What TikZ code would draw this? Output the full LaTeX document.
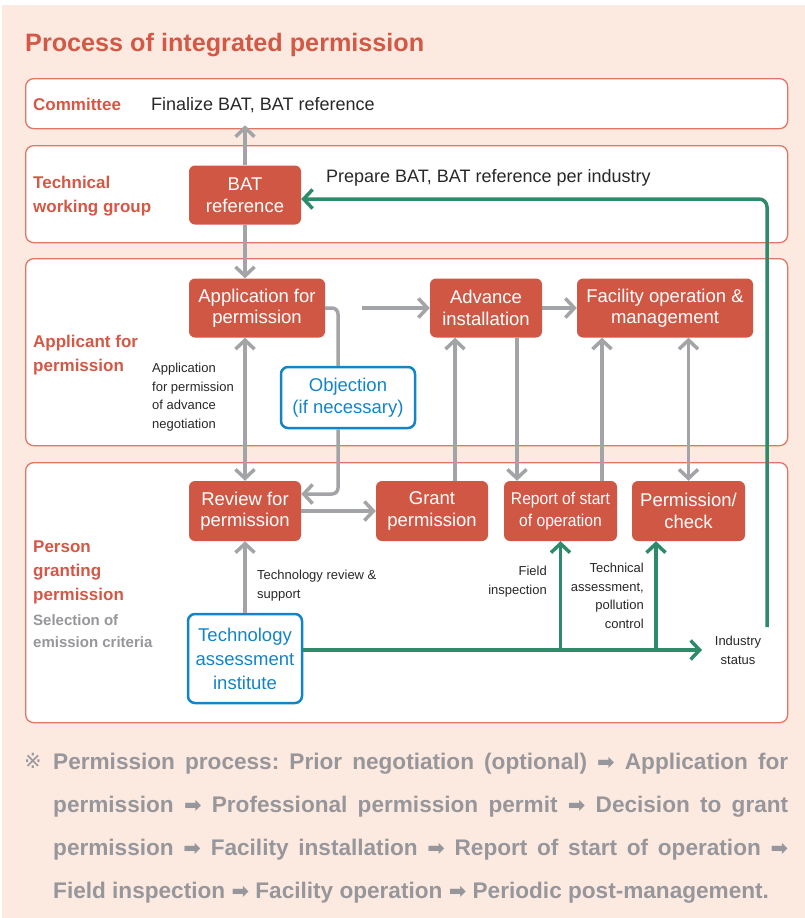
\documentclass[tikz,border=0pt]{standalone}
\usepackage{fontspec}
\setmainfont{Liberation Sans}
\newfontfamily\condfont[FakeStretch=0.92]{Liberation Sans}
\newfontfamily\symfont{DejaVu Sans}
\usetikzlibrary{arrows.meta}
\usetikzlibrary{calc}
\usetikzlibrary{positioning}
\definecolor{bgpink}{RGB}{252,234,225}
\definecolor{laneborder}{RGB}{226,118,100}
\definecolor{boxred}{RGB}{209,87,69}
\definecolor{titlered}{RGB}{212,88,70}
\definecolor{arrowgray}{RGB}{163,164,168}
\definecolor{flowgreen}{RGB}{46,139,106}
\definecolor{instblue}{RGB}{20,132,200}
\definecolor{notegray}{RGB}{150,150,155}
\definecolor{darktext}{RGB}{40,40,40}
\tikzstyle{lane}=[draw=laneborder, line width=1.3pt, fill=white, rounded corners=8pt, anchor=north west, minimum width=762pt]
\tikzstyle{lanelabel}=[anchor=base west, inner sep=0pt, align=left, text=titlered, font=\bfseries\fontsize{17}{24}\selectfont]
\tikzstyle{stepred}=[fill=boxred, rounded corners=6pt, text=white, align=center, inner sep=0pt, font=\fontsize{18.5}{21.5}\selectfont]
\tikzstyle{instbox}=[draw=instblue, line width=2.5pt, fill=white, rounded corners=7pt, text=instblue, align=center, inner sep=0pt, font=\fontsize{18.5}{24}\selectfont]
\tikzstyle{smalltext}=[inner sep=0pt, text=darktext, font=\fontsize{13}{18.5}\selectfont]
\tikzstyle{grayarr}=[draw=arrowgray, line width=3.5pt]
\tikzstyle{greenarr}=[draw=flowgreen, line width=3.5pt]
\tikzstyle{noteline}=[anchor=base west, inner sep=0pt, text=notegray, font=\frenchspacing\bfseries\fontsize{22.6}{43}\selectfont]
\newcommand{\nextstep}{{\symfont\fontsize{21}{43}\selectfont ➡}}

\begin{document}
\begin{tikzpicture}[x=1pt,y=-1pt,>={Straight Barb[length=9pt,width=19pt]}]
  \fill[white] (0,0) rectangle (805,918);
  \fill[bgpink] (2,5) rectangle (805,918);
  \useasboundingbox (0,0) rectangle (805,918);
  \node[anchor=base west, inner sep=0pt, text=titlered, font=\bfseries\fontsize{25.2}{28}\selectfont] (title) at (25,51) {Process of integrated permission};

  % lanes
  \node[lane, minimum height=50pt] (committee) at (25,78) {};
  \node[lane, minimum height=97pt] (twg) at (25,145) {};
  \node[lane, minimum height=187pt] (applicant) at (25,258) {};
  \node[lane, minimum height=260pt] (granting) at (25,462) {};
  \node[lanelabel] (comlabel) at (33,110) {Committee};
  \node[lanelabel] (twglabel) at (33,212) {Technical\\working group};
  \node[lanelabel] (applabel) at (33,371) {Applicant for\\permission};
  \node[lanelabel] (grantlabel) at (33,600) {Person\\granting\\permission};
  \node[lanelabel, text=notegray, font=\bfseries\fontsize{15}{22}\selectfont] (critlabel) at (33,647) {Selection of\\emission criteria};
  \node[anchor=base west, inner sep=0pt, text=darktext, font=\fontsize{18}{22}\selectfont] (finalize) at (151,110) {Finalize BAT, BAT reference};
  \node[anchor=base west, inner sep=0pt, text=darktext, font=\fontsize{18}{22}\selectfont] (prepare) at (326,182) {Prepare BAT, BAT reference per industry};

  % steps
  \node[stepred, minimum width=112pt, minimum height=59pt] (bat) at (245,195) {BAT\\reference};
  \node[stepred, minimum width=136pt, minimum height=59pt] (app) at (257,308) {Application for\\permission};
  \node[stepred, minimum width=112pt, minimum height=59pt] (adv) at (486,308) {Advance\\installation};
  \node[stepred, minimum width=176pt, minimum height=59pt] (fac) at (665,308) {Facility operation \&\\management};
  \node[stepred, minimum width=112pt, minimum height=60pt] (rev) at (245,511) {Review for\\permission};
  \node[stepred, minimum width=112pt, minimum height=60pt] (grant) at (432,511) {Grant\\permission};
  \node[stepred, minimum width=113pt, minimum height=60pt, font=\condfont\fontsize{17}{22}\selectfont] (report) at (560.5,511) {Report of start\\of operation};
  \node[stepred, minimum width=113pt, minimum height=60pt] (perm) at (688.5,511) {Permission/\\check};
  \node[instbox, minimum width=134pt, minimum height=61pt, font=\fontsize{18.5}{22}\selectfont] (obj) at (348,397.5) {Objection\\(if necessary)};
  \node[instbox, minimum width=114pt, minimum height=89pt] (tech) at (245,658.5) {Technology\\assessment\\institute};

  % side notes
  \node[smalltext, anchor=base west, align=left] (advnote) at (152,428) {Application\\for permission\\of advance\\negotiation};
  \node[smalltext, anchor=base west, align=left] (technote) at (257,598) {Technology review \&\\support};
  \node[smalltext, anchor=base east, align=right] (fieldnote) at (547,594) {Field\\inspection};
  \node[smalltext, anchor=base east, align=right] (assessnote) at (644,628) {Technical\\assessment,\\pollution\\control};
  \node[smalltext, anchor=base, align=center] (industry) at (738,664) {Industry\\status};

  % gray flow
  \draw[grayarr,->] (bat.north) -- ([yshift=4pt]bat.north |- committee.south);
  \draw[grayarr,->] (bat.south) -- (bat.south |- app.north);
  \draw[grayarr,<->] (rev.north |- app.south) -- (rev.north);
  \draw[grayarr, rounded corners=6pt] (app.east) -| ([xshift=-10pt]obj.north);
  \draw[grayarr,->, rounded corners=6pt] ([xshift=-10pt]obj.south) |- ([yshift=17pt]rev.east);
  \coordinate (gap) at (362,308);
  \draw[grayarr,->] (gap) -- (adv.west);
  \draw[grayarr,->] (adv.east) -- (fac.west);
  \draw[grayarr,->] (rev.east) -- (grant.west);
  \draw[grayarr,->] ([xshift=-31pt]adv.south |- grant.north) -- ([xshift=-31pt]adv.south);
  \draw[grayarr,->] ([xshift=31pt]adv.south) -- ([xshift=31pt]adv.south |- report.north);
  \draw[grayarr,->] ([xshift=41.5pt]report.north) -- ([xshift=41.5pt]report.north |- fac.south);
  \draw[grayarr,<->] (perm.north |- fac.south) -- (perm.north);
  \draw[grayarr,->] (tech.north) -- (rev.south);

  % green flow
  \coordinate (indtip) at (702,650);
  \coordinate (status) at (767,627);
  \draw[greenarr,->] ([yshift=8.5pt]tech.east) -- (indtip);
  \draw[greenarr,->] (report.south |- indtip) -- (report.south);
  \draw[greenarr,->] ([xshift=-32.5pt]perm.south |- indtip) -- ([xshift=-32.5pt]perm.south);
  \draw[greenarr,->, rounded corners=8pt] (status) |- ([yshift=-4pt]bat.east);

  % note
  \node[noteline, font=\fontsize{21}{43}\selectfont] (mark) at (24,768) {{\symfont ※}};
  \node[noteline] (note1) at (53,769) {\makebox[735pt][s]{Permission process: Prior negotiation (optional) \nextstep{} Application for}};
  \node[noteline] (note2) at (53,812) {\makebox[735pt][s]{permission \nextstep{} Professional permission permit \nextstep{} Decision to grant}};
  \node[noteline] (note3) at (53,855) {\makebox[735pt][s]{permission \nextstep{} Facility installation \nextstep{} Report of start of operation \nextstep}};
  \node[noteline] (note4) at (53,898) {Field inspection \nextstep{} Facility operation \nextstep{} Periodic post-management.};
\end{tikzpicture}
\end{document}
